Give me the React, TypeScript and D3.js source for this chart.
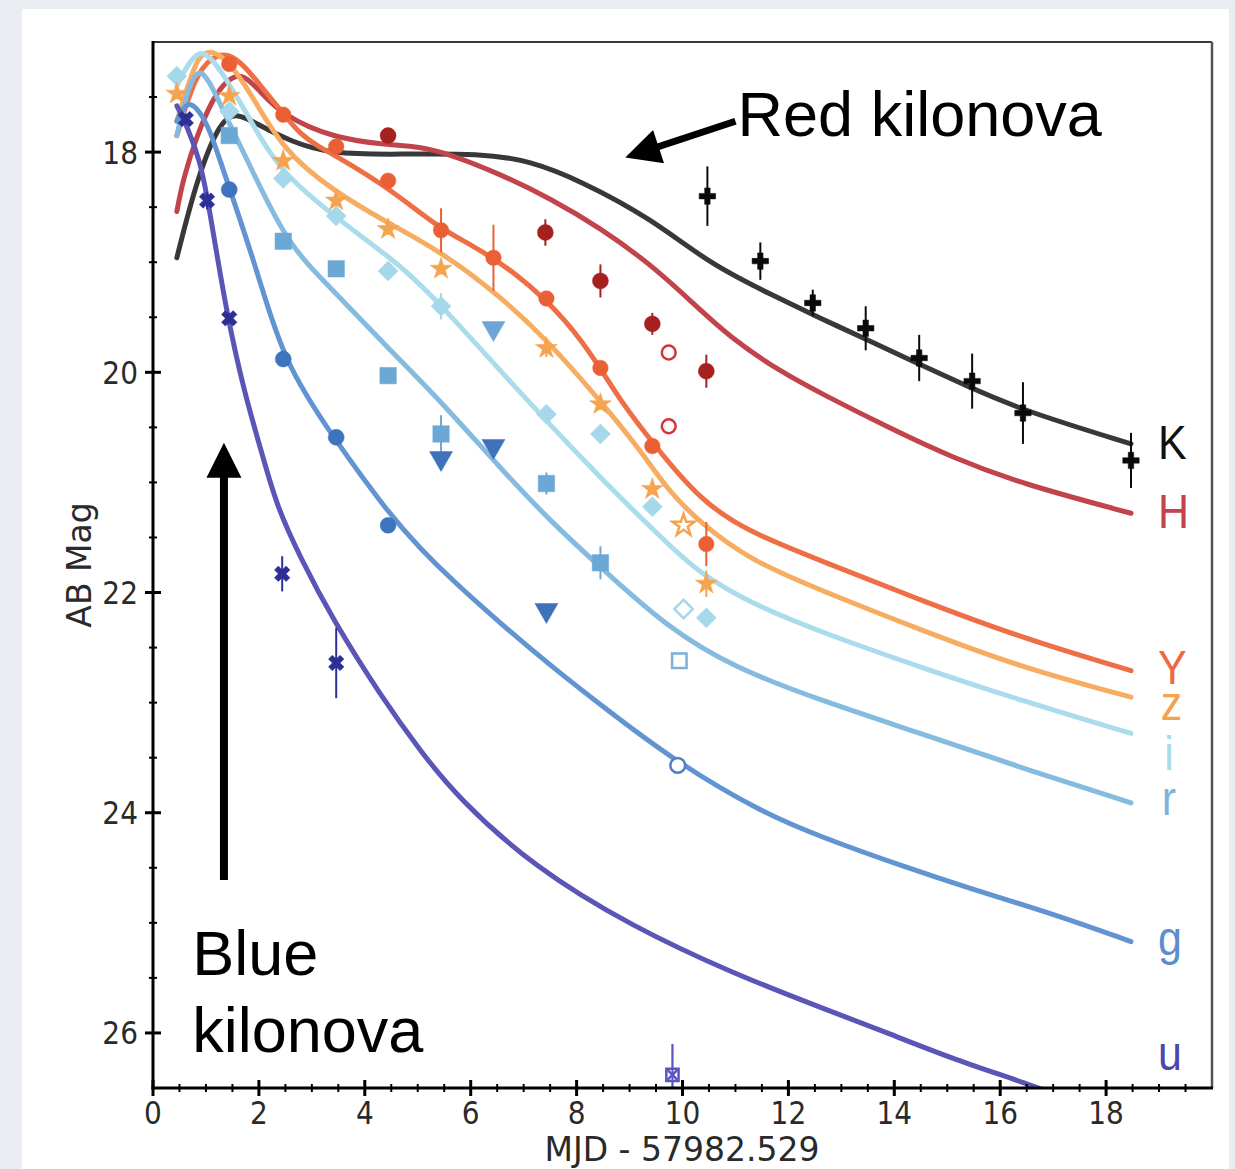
import { useEffect, useRef } from "react";
import * as d3 from "d3";

// x: days since MJD 57982.529, y: AB magnitude
const xTicks = [0, 2, 4, 6, 8, 10, 12, 14, 16, 18];
const yTicks = [18, 20, 22, 24, 26];

// model light curves, one per band: [day, mag]
const modelK = [[0.45, 18.96], [0.83, 18.24], [1.27, 17.71], [1.59, 17.64], [2.02, 17.76], [2.59, 17.9], [3.35, 18.02], [4.67, 18.02], [6.18, 18.01], [7.13, 18.08], [8.07, 18.26], [9.4, 18.6], [10.53, 19.02], [11.66, 19.29], [12.61, 19.51], [13.42, 19.69], [14.44, 19.92], [15.44, 20.14], [16.45, 20.35], [18.47, 20.65]];
const modelH = [[0.45, 18.54], [0.57, 18.24], [0.83, 17.85], [1.12, 17.52], [1.4, 17.34], [1.7, 17.28], [2.02, 17.45], [2.46, 17.67], [3.4, 17.87], [4.35, 17.93], [5.05, 17.95], [5.61, 18.02], [6.56, 18.2], [7.5, 18.42], [8.45, 18.69], [9.4, 19.02], [10.15, 19.35], [10.96, 19.71], [11.91, 20.01], [12.61, 20.19], [13.88, 20.5], [15.12, 20.78], [16.39, 21.01], [18.47, 21.28]];
const modelY = [[0.45, 17.85], [0.79, 17.31], [1.12, 17.13], [1.42, 17.1], [1.74, 17.22], [2.12, 17.45], [2.46, 17.65], [2.78, 17.84], [3.16, 17.96], [3.4, 18.02], [4.44, 18.32], [5.43, 18.7], [5.94, 18.82], [6.88, 19.1], [7.83, 19.53], [8.45, 19.96], [8.83, 20.26], [9.45, 20.65], [10.34, 21.17], [11.29, 21.46], [12.61, 21.71], [14.5, 22.07], [16.39, 22.41], [18.47, 22.71]];
const modelZ = [[0.45, 17.72], [0.79, 17.19], [0.95, 17.1], [1.12, 17.08], [1.42, 17.17], [1.83, 17.45], [2.46, 17.99], [3.4, 18.35], [4.42, 18.64], [5.43, 18.9], [6.56, 19.31], [7.45, 19.71], [8.45, 20.26], [9.21, 20.71], [9.72, 21.07], [10.34, 21.37], [11.29, 21.71], [12.61, 21.98], [14.5, 22.34], [16.39, 22.68], [18.47, 22.95]];
const modelI = [[0.45, 17.4], [0.7, 17.16], [0.95, 17.06], [1.27, 17.25], [1.64, 17.54], [2.06, 17.9], [2.46, 18.19], [3.4, 18.58], [4.67, 19.02], [5.43, 19.38], [7.07, 20.26], [8.45, 20.96], [9.72, 21.56], [10.34, 21.83], [11.29, 22.1], [12.61, 22.36], [14.5, 22.68], [16.39, 22.98], [18.47, 23.28]];
const modelR = [[0.45, 17.85], [0.64, 17.45], [0.83, 17.25], [1.02, 17.3], [1.46, 17.76], [1.83, 18.12], [2.53, 18.83], [3.29, 19.2], [4.48, 19.8], [5.43, 20.26], [6.56, 20.87], [7.5, 21.35], [8.45, 21.77], [9.72, 22.32], [10.96, 22.68], [12.61, 22.98], [14.5, 23.28], [16.39, 23.59], [18.47, 23.91]];
const modelG = [[0.45, 17.72], [0.64, 17.52], [0.89, 17.63], [1.08, 17.81], [1.27, 18.08], [1.46, 18.35], [1.97, 19.08], [2.46, 19.9], [3.4, 20.59], [4.48, 21.3], [5.05, 21.6], [5.61, 21.87], [6.56, 22.28], [7.5, 22.66], [8.45, 23.02], [9.91, 23.55], [11.47, 23.99], [12.61, 24.22], [14.12, 24.48], [15.44, 24.69], [17.01, 24.92], [18.47, 25.17]];
const modelU = [[0.45, 17.58], [0.64, 17.76], [0.89, 18.08], [1.04, 18.44], [1.4, 19.5], [1.74, 20.21], [2.06, 20.74], [2.34, 21.22], [2.78, 21.68], [3.4, 22.25], [4.29, 22.93], [5.05, 23.44], [5.75, 23.86], [7.18, 24.49], [9.07, 25.04], [10.96, 25.46], [12.61, 25.77], [13.88, 26.0], [15.12, 26.24], [16.71, 26.49], [17.52, 26.65]];

// detections: [day, mag, err]
const obsK = [[10.47, 18.4, 0.27], [11.47, 18.99, 0.17], [12.46, 19.37, 0.12], [13.46, 19.6, 0.2], [14.47, 19.87, 0.21], [15.47, 20.08, 0.25], [16.43, 20.37, 0.28], [18.47, 20.8, 0.25]];
const obsH = [[4.44, 17.85, 0.06], [7.41, 18.73, 0.12], [8.45, 19.17, 0.15], [9.43, 19.56, 0.1], [10.45, 19.99, 0.15]];
const obsY = [[1.44, 17.2, 0.03], [2.46, 17.66, 0.03], [3.46, 17.95, 0.03], [4.44, 18.26, 0.05], [5.44, 18.71, 0.2], [6.43, 18.96, 0.3], [7.43, 19.33, 0.05], [8.45, 19.96, 0.05], [9.43, 20.67, 0.05], [10.45, 21.56, 0.2]];
const obsZ = [[0.45, 17.47, 0.05], [1.44, 17.49, 0.03], [2.46, 18.08, 0.05], [3.46, 18.44, 0.05], [4.44, 18.7, 0.05], [5.44, 19.06, 0.05], [7.43, 19.78, 0.08], [8.45, 20.29, 0.05], [9.43, 21.06, 0.05], [10.45, 21.92, 0.12]];
const obsI = [[0.45, 17.31, 0.03], [1.44, 17.63, 0.03], [2.46, 18.24, 0.03], [3.46, 18.58, 0.03], [4.44, 19.08, 0.03], [5.44, 19.4, 0.12], [7.43, 20.38, 0.08], [8.45, 20.56, 0.05], [9.43, 21.22, 0.05], [10.45, 22.23, 0.05]];
const obsR = [[1.44, 17.85, 0.03], [2.46, 18.81, 0.03], [3.46, 19.06, 0.03], [4.44, 20.03, 0.03], [5.44, 20.56, 0.17], [7.43, 21.01, 0.1], [8.45, 21.73, 0.15]];
const obsG = [[1.44, 18.34, 0.03], [2.46, 19.88, 0.03], [3.46, 20.59, 0.03], [4.44, 21.39, 0.03]];
const obsU = [[0.62, 17.7, 0.05], [1.02, 18.44, 0.08], [1.44, 19.51, 0.05], [2.44, 21.83, 0.16], [3.46, 22.64, 0.32]];
const obsTriDark = [[5.44, 20.78, 0], [6.43, 20.67, 0], [7.43, 22.16, 0]];
const obsTriLight = [[6.43, 19.6, 0]];

// open (hollow) points: [day, mag, err]
const openH = [[9.74, 19.82, 0], [9.74, 20.49, 0]];
const openZ = [[10.02, 21.39, 0]];
const openI = [[10.02, 22.15, 0]];
const openR = [[9.94, 22.62, 0]];
const openG = [[9.91, 23.57, 0]];
const openU = [[9.81, 26.38, 0.28]];

// band label positions at right: [name, day, mag]
const bandLabels = [["K", 18.98, 20.79], ["H", 18.98, 21.41], ["Y", 18.98, 22.83], ["z", 19.03, 23.16], ["i", 19.1, 23.61], ["r", 19.05, 24.02], ["g", 18.98, 25.29], ["u", 18.98, 26.34]];

const bands = [
  { name: "K", model: modelK, line: "#383838", text: "#111111" },
  { name: "H", model: modelH, line: "#c1444b", text: "#c1444b" },
  { name: "Y", model: modelY, line: "#ee6e45", text: "#ee6a3e" },
  { name: "z", model: modelZ, line: "#f6ad62", text: "#f4a24e" },
  { name: "i", model: modelI, line: "#abdcec", text: "#a8dbec" },
  { name: "r", model: modelR, line: "#86bbe0", text: "#7fb3dc" },
  { name: "g", model: modelG, line: "#6294d2", text: "#5b8dd0" },
  { name: "u", model: modelU, line: "#5a55b6", text: "#4c47ab" },
];

export default function App() {
  const ref = useRef<SVGSVGElement>(null);

  useEffect(() => {
    const svg = d3.select(ref.current);
    svg.selectAll("*").remove();

    const x = d3.scaleLinear().domain([0, 20]).range([153, 1212]);
    const y = d3.scaleLinear().domain([17, 26.5]).range([42, 1088]);

    svg.append("rect").attr("width", 1235).attr("height", 1169).attr("fill", "#e9ecf0");
    svg.append("rect").attr("x", 22).attr("y", 9).attr("width", 1207).attr("height", 1160).attr("fill", "#ffffff");

    svg.append("clipPath").attr("id", "plot")
      .append("rect").attr("x", 153).attr("y", 42).attr("width", 1059).attr("height", 1046);

    const plot = svg.append("g").attr("clip-path", "url(#plot)");

    const line = d3.line<number[]>()
      .x(d => x(d[0]))
      .y(d => y(d[1]))
      .curve(d3.curveBasis);

    // model curves
    bands.forEach(b => {
      plot.append("path")
        .attr("d", line(b.model as number[][]))
        .attr("fill", "none")
        .attr("stroke", b.line)
        .attr("stroke-width", 5)
        .attr("stroke-linejoin", "round")
        .attr("stroke-linecap", "round");
    });

    const drawPoints = (
      pts: number[][], type: d3.SymbolType, size: number, color: string,
      opts: { open?: boolean; rotate?: number; errColor?: string } = {}
    ) => {
      const g = plot.append("g");
      g.selectAll("line.err")
        .data(pts.filter(p => p[2] > 0))
        .join("line")
        .attr("x1", d => x(d[0])).attr("x2", d => x(d[0]))
        .attr("y1", d => y(d[1] - d[2])).attr("y2", d => y(d[1] + d[2]))
        .attr("stroke", opts.errColor || color)
        .attr("stroke-width", 2);
      const sym = d3.symbol().type(type).size(size)();
      g.selectAll("path.pt")
        .data(pts)
        .join("path")
        .attr("d", sym)
        .attr("transform", d => `translate(${x(d[0])},${y(d[1])}) rotate(${opts.rotate || 0})`)
        .attr("fill", opts.open ? "#ffffff" : color)
        .attr("stroke", color)
        .attr("stroke-width", opts.open ? 2.5 : 0.5);
    };

    // observed photometry
    drawPoints(obsU, d3.symbolCross, 150, "#2c2f96", { rotate: 45 });
    drawPoints(obsG, d3.symbolCircle, 200, "#3d73bf");
    drawPoints(obsR, d3.symbolSquare, 270, "#6ba8d5");
    drawPoints(obsTriDark, d3.symbolTriangle, 230, "#3f72ba", { rotate: 180 });
    drawPoints(obsTriLight, d3.symbolTriangle, 230, "#6ba6d6", { rotate: 180 });
    drawPoints(obsI, d3.symbolSquare, 200, "#a5d8ea", { rotate: 45 });
    drawPoints(obsZ, d3.symbolStar, 150, "#f5a34f");
    drawPoints(obsY, d3.symbolCircle, 190, "#ea6034");
    drawPoints(obsH, d3.symbolCircle, 200, "#a6201f");
    drawPoints(obsK, d3.symbolCross, 150, "#0a0a0a");

    drawPoints(openH, d3.symbolCircle, 150, "#d8333a", { open: true });
    drawPoints(openZ, d3.symbolStar, 150, "#f5a34f", { open: true });
    drawPoints(openI, d3.symbolSquare, 170, "#a5d8ea", { open: true, rotate: 45 });
    drawPoints(openR, d3.symbolSquare, 210, "#7ab0da", { open: true });
    drawPoints(openG, d3.symbolCircle, 170, "#4f7fc6", { open: true });
    drawPoints(openU, d3.symbolSquare, 150, "#5a55c2", { open: true, errColor: "#b9b6e6" });
    drawPoints(openU, d3.symbolTimes, 60, "#5a55c2", { open: true });

    // frame
    const frame = svg.append("g");
    frame.append("line").attr("x1", 153).attr("x2", 1212).attr("y1", 42).attr("y2", 42).attr("stroke", "#3a3a3a").attr("stroke-width", 2);
    frame.append("line").attr("x1", 1212).attr("x2", 1212).attr("y1", 42).attr("y2", 1088).attr("stroke", "#555").attr("stroke-width", 2.5);
    frame.append("line").attr("x1", 153).attr("x2", 153).attr("y1", 41).attr("y2", 1089.5).attr("stroke", "#000").attr("stroke-width", 3);
    frame.append("line").attr("x1", 151.5).attr("x2", 1213).attr("y1", 1088).attr("y2", 1088).attr("stroke", "#000").attr("stroke-width", 3);

    // ticks
    const minorX = d3.range(0.5, 20, 0.5).filter(v => v % 2 !== 0);
    const minorY = d3.range(17.5, 26.5, 0.5).filter(v => v % 2 !== 0);
    frame.selectAll("line.mx").data(minorX).join("line")
      .attr("x1", d => x(d)).attr("x2", d => x(d)).attr("y1", 1084).attr("y2", 1092)
      .attr("stroke", "#000").attr("stroke-width", 2);
    frame.selectAll("line.Mx").data(xTicks).join("line")
      .attr("x1", d => x(d)).attr("x2", d => x(d)).attr("y1", 1080).attr("y2", 1096)
      .attr("stroke", "#000").attr("stroke-width", 3);
    frame.selectAll("line.my").data(minorY).join("line")
      .attr("y1", d => y(d)).attr("y2", d => y(d)).attr("x1", 149).attr("x2", 157)
      .attr("stroke", "#000").attr("stroke-width", 2);
    frame.selectAll("line.My").data(yTicks).join("line")
      .attr("y1", d => y(d)).attr("y2", d => y(d)).attr("x1", 145).attr("x2", 161)
      .attr("stroke", "#000").attr("stroke-width", 3);

    const tickFont = "'DejaVu Sans', sans-serif";
    frame.selectAll("text.xt").data(xTicks).join("text")
      .attr("transform", d => `translate(${x(d)},1124) scale(1,1.14)`)
      .attr("text-anchor", "middle")
      .attr("font-family", tickFont).attr("font-size", 28).attr("fill", "#2a2a2a")
      .text(d => d);
    frame.selectAll("text.yt").data(yTicks).join("text")
      .attr("transform", d => `translate(138,${y(d) + 11.5}) scale(1,1.14)`)
      .attr("text-anchor", "end")
      .attr("font-family", tickFont).attr("font-size", 28).attr("fill", "#2a2a2a")
      .text(d => d);

    frame.append("text")
      .attr("x", 682).attr("y", 1161)
      .attr("text-anchor", "middle")
      .attr("font-family", tickFont).attr("font-size", 33).attr("fill", "#2a2a2a")
      .text("MJD - 57982.529");
    frame.append("text")
      .attr("transform", `translate(91,${y(21.75)}) rotate(-90)`)
      .attr("text-anchor", "middle")
      .attr("font-family", tickFont).attr("font-size", 33).attr("fill", "#2a2a2a")
      .text("AB Mag");

    // band labels
    const colorOf = new Map(bands.map(b => [b.name, b.text]));
    svg.selectAll("text.band").data(bandLabels).join("text")
      .attr("transform", d => `translate(${x(d[1] as number)},${y(d[2] as number)}) scale(1,1.13)`)
      .attr("font-family", "'Liberation Sans', Arial, sans-serif")
      .attr("font-size", 43)
      .attr("fill", d => colorOf.get(d[0] as string) as string)
      .text(d => d[0] as string);

    // annotations
    const arrow = (fromX: number, fromY: number, toX: number, toY: number, w: number) => {
      const x0 = x(fromX), y0 = y(fromY), x1 = x(toX), y1 = y(toY);
      const len = Math.hypot(x1 - x0, y1 - y0);
      const ux = (x1 - x0) / len, uy = (y1 - y0) / len;
      const headL = 35, headW = 17.5;
      const bx = x1 - ux * headL, by = y1 - uy * headL;
      svg.append("line").attr("x1", x0).attr("y1", y0).attr("x2", bx + ux * 2).attr("y2", by + uy * 2)
        .attr("stroke", "#000").attr("stroke-width", w);
      svg.append("path")
        .attr("d", `M${x1},${y1}L${bx - uy * headW},${by + ux * headW}L${bx + uy * headW},${by - ux * headW}Z`)
        .attr("fill", "#000");
    };
    arrow(11.0, 17.72, 8.92, 18.05, 7);
    arrow(1.34, 24.61, 1.34, 20.64, 8);

    const annFont = "'Liberation Sans', Arial, Helvetica, sans-serif";
    svg.append("text").attr("x", x(11.04)).attr("y", y(17.85))
      .attr("font-family", annFont).attr("font-size", 63).attr("fill", "#000").text("Red kilonova");
    svg.append("text").attr("x", x(0.74)).attr("y", y(25.47))
      .attr("font-family", annFont).attr("font-size", 63).attr("fill", "#000").text("Blue");
    svg.append("text").attr("x", x(0.74)).attr("y", y(26.17))
      .attr("font-family", annFont).attr("font-size", 63).attr("fill", "#000").text("kilonova");
  }, []);

  return (
    <div style={{ position: "absolute", left: 0, top: 0 }}>
      <svg ref={ref} width={1235} height={1169} style={{ display: "block" }} />
    </div>
  );
}
